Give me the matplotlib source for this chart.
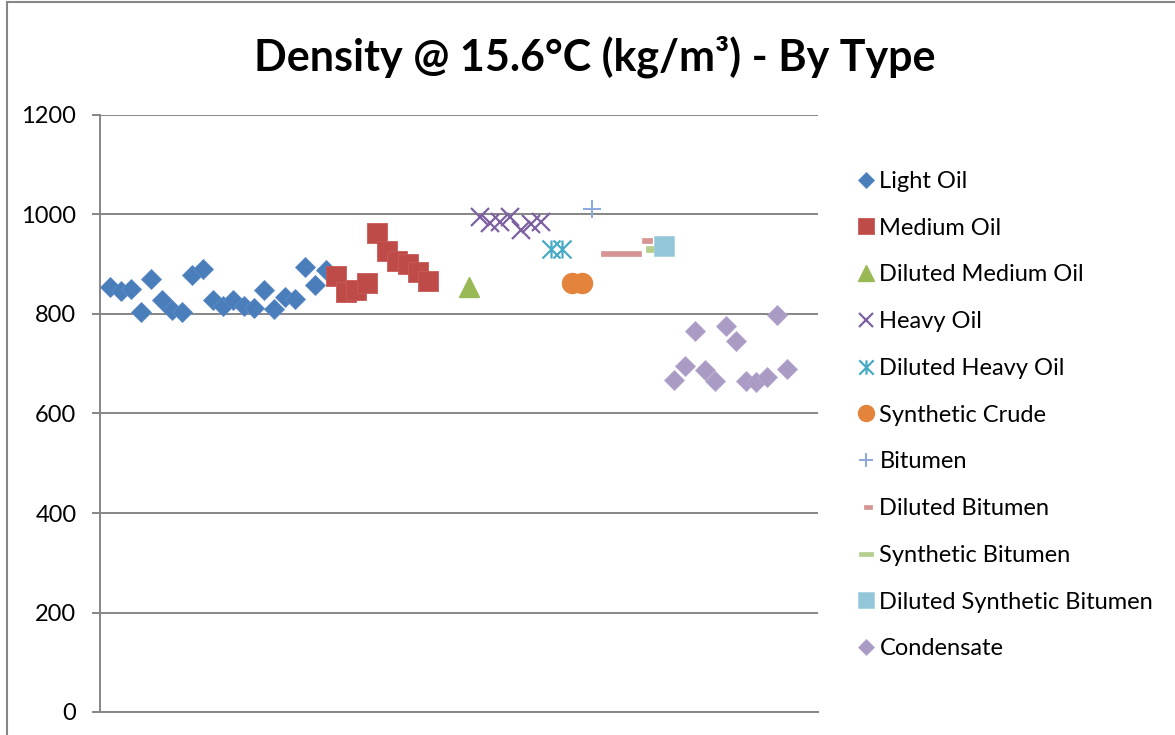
import matplotlib
matplotlib.use("Agg")
import matplotlib.pyplot as plt
import numpy as np
from matplotlib.path import Path
from matplotlib.patches import Rectangle

plt.rcParams['font.family'] = ['Lato', 'DejaVu Sans']

# data (x = sample number, y = density kg/m3)
light_x = list(range(1, 23))
light_y = [855, 847, 851, 805, 871, 829, 808, 805, 878, 891, 828, 816,
           829, 816, 813, 849, 811, 835, 831, 895, 858, 888]
medium_x = list(range(23, 33))
medium_y = [876, 845, 848, 863, 963, 927, 906, 900, 885, 867]
dil_medium_x = [36]
dil_medium_y = [854]
heavy_x = list(range(37, 44))
heavy_y = [994, 983, 984, 995, 968, 980, 985]
dil_heavy_x = [44, 45]
dil_heavy_y = [930, 930]
syn_crude_x = [46, 47]
syn_crude_y = [863, 863]
bitumen_x = [48]
bitumen_y = [1011]
dil_bitumen_x = [49, 50, 51, 52, 53]
dil_bitumen_y = [923, 922, 923, 922, 948]
syn_bitumen_x = [54]
syn_bitumen_y = [931]
dil_syn_bitumen_x = [55]
dil_syn_bitumen_y = [937]
condensate_x = list(range(56, 68))
condensate_y = [668, 695, 765, 688, 665, 776, 745, 665, 663, 673, 798, 690]

# custom markers: asterisk (x + vertical bar), short dash offset right, long dash
star = Path([(-0.5, -0.5), (0.5, 0.5), (-0.5, 0.5), (0.5, -0.5), (0, -0.5), (0, 0.5)],
            [Path.MOVETO, Path.LINETO, Path.MOVETO, Path.LINETO, Path.MOVETO, Path.LINETO])
short_dash = Path([(-0.2, -0.25), (0.8, -0.25), (0.8, 0.25), (-0.2, 0.25), (-0.2, -0.25)],
                  [Path.MOVETO, Path.LINETO, Path.LINETO, Path.LINETO, Path.CLOSEPOLY])
long_dash = Path([(-0.5, -0.15), (0.5, -0.15), (0.5, 0.15), (-0.5, 0.15), (-0.5, -0.15)],
                 [Path.MOVETO, Path.LINETO, Path.LINETO, Path.LINETO, Path.CLOSEPOLY])

fig = plt.figure(figsize=(11.75, 7.35), dpi=100)
ax = fig.add_axes([100 / 1175, 1 - 712 / 735, 718 / 1175, 597 / 735])

px = 72 / 100  # pixels -> points

ax.plot(light_x, light_y, 'D', ms=14 * px, color='#4A7EBB', mec='#5A8AC6', mew=0.6, label='Light Oil')
ax.plot(medium_x, medium_y, 's', ms=20 * px, color='#BE4B48', mec='#C85A57', mew=0.6, label='Medium Oil')
ax.plot(dil_medium_x, dil_medium_y, '^', ms=20 * px, color='#98B954', mec='#98B954', label='Diluted Medium Oil')
ax.plot(heavy_x, heavy_y, 'x', ms=18 * px, color='#7D60A0', mew=2 * px * 1.1, label='Heavy Oil')
ax.plot(dil_heavy_x, dil_heavy_y, marker=star, ls='none', ms=18 * px, color='#46AAC5', mew=2 * px * 1.1,
        label='Diluted Heavy Oil')
ax.plot(syn_crude_x, syn_crude_y, 'o', ms=20 * px, color='#E4843C', mec='#E4843C', label='Synthetic Crude')
ax.plot(bitumen_x, bitumen_y, '+', ms=18 * px, color='#8EA9DB', mew=2 * px, label='Bitumen')
ax.plot(dil_bitumen_x, dil_bitumen_y, marker=short_dash, ls='none', ms=16 * px, color='#D69593',
        mec='#D69593', mew=0.5, label='Diluted Bitumen')
ax.plot(syn_bitumen_x, syn_bitumen_y, marker=long_dash, ls='none', ms=17 * px, color='#B5CE8D',
        mec='#B5CE8D', mew=0.5, label='Synthetic Bitumen')
ax.plot(dil_syn_bitumen_x, dil_syn_bitumen_y, 's', ms=20 * px, color='#93C6D8', mec='#A8D3E2', mew=0.6,
        label='Diluted Synthetic Bitumen')
ax.plot(condensate_x, condensate_y, 'D', ms=14 * px, color='#A99BC4', mec='#B5A8CD', mew=0.6, label='Condensate')

ax.set_xlim(0, 70)
ax.set_ylim(0, 1200)
ax.set_yticks(np.arange(0, 1201, 200))
ax.set_xticks([])
ax.grid(axis='y', color='#868686', lw=1.4)
ax.set_axisbelow(True)
for s in ['top', 'right']:
    ax.spines[s].set_visible(False)
ax.spines['left'].set_color('#868686')
ax.spines['left'].set_linewidth(1.4)
ax.spines['bottom'].set_color('#868686')
ax.spines['bottom'].set_linewidth(1.4)
ax.tick_params(axis='y', direction='out', length=6, width=1.4, color='#868686',
               labelsize=17, pad=11, labelcolor='black')

fig.text(595 / 1175, 1 - 57 / 735, 'Density @ 15.6°C (kg/m³) - By Type', ha='center', va='center',
         fontsize=31, fontweight='bold')

leg = fig.legend(loc='upper left', bbox_to_anchor=(857 / 1175, 1 - 171 / 735), frameon=False,
                 fontsize=17, labelspacing=1.09, handlelength=0.8, handletextpad=0.15,
                 markerscale=0.8, borderaxespad=0, borderpad=0)

fig.patches.append(Rectangle((7 / 1175, -0.1), 1.2, 1 - 2 / 735 + 0.1, transform=fig.transFigure,
                             fill=False, edgecolor='#868686', lw=1.5))

fig.savefig('out.png', dpi=100)
